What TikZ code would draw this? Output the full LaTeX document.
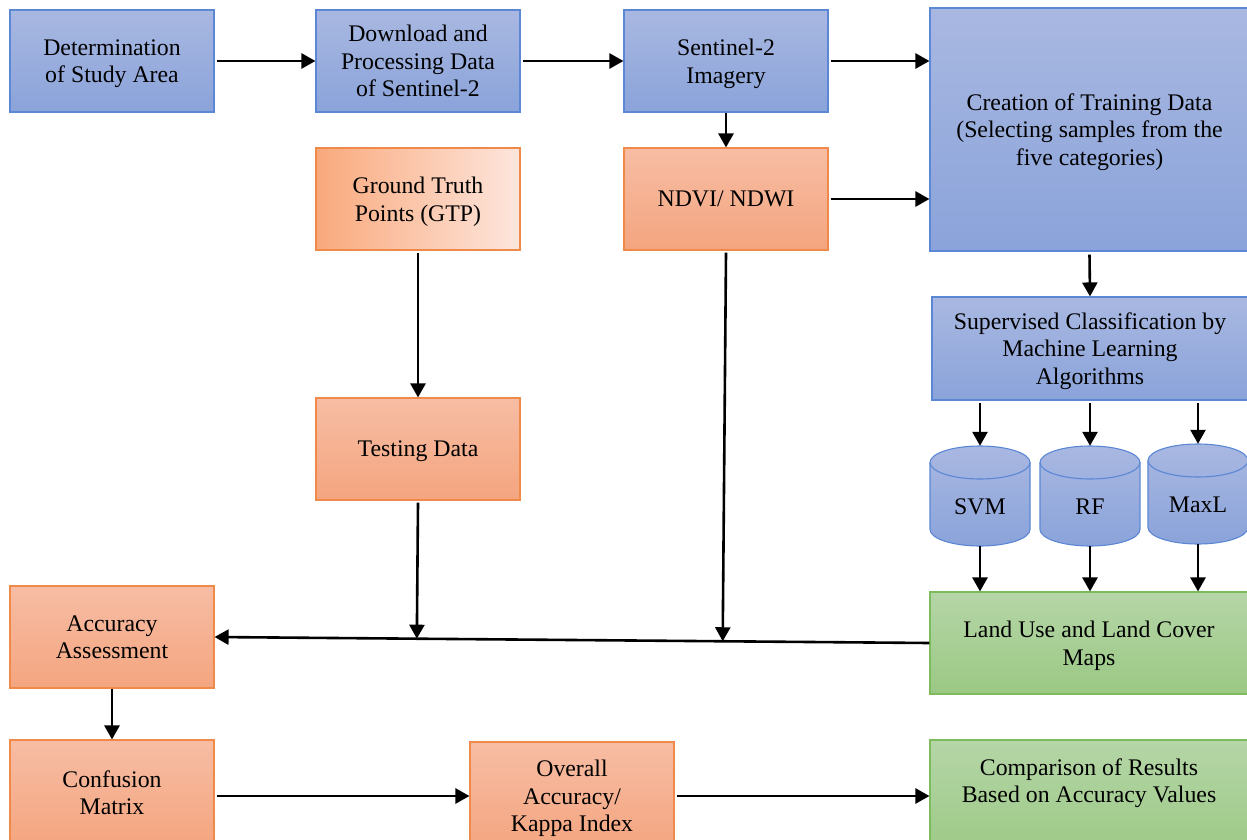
\documentclass[tikz,border=0pt]{standalone}
\usepackage{fontspec}
\setmainfont{Liberation Serif}
\usetikzlibrary{arrows.meta,calc}
\definecolor{bluetop}{HTML}{A9B8E1}
\definecolor{bluebot}{HTML}{8AA3DA}
\definecolor{blueline}{HTML}{5B87D5}
\definecolor{orgtop}{HTML}{F7BDA4}
\definecolor{orgbot}{HTML}{F4A57F}
\definecolor{orgline}{HTML}{F08A4B}
\definecolor{orgleft}{HTML}{F9A97C}
\definecolor{orgright}{HTML}{FDE6DD}
\definecolor{grntop}{HTML}{B5D6A7}
\definecolor{grnbot}{HTML}{9BC884}
\definecolor{grnline}{HTML}{7DBB5C}
\begin{document}
\begin{tikzpicture}[x=1pt,y=-1pt,
 font=\fontsize{23.8}{27.5}\selectfont,
 box/.style={rectangle, inner sep=0pt, align=center, line width=1.1pt, minimum width=204pt, minimum height=102pt, text depth=-4pt},
 bluebox/.style={box, draw=blueline, top color=bluetop, bottom color=bluebot},
 orgbox/.style={box, draw=orgline, top color=orgtop, bottom color=orgbot},
 grnbox/.style={box, draw=grnline, top color=grntop, bottom color=grnbot},
 cyl/.style={draw=blueline, line width=1.1pt, top color=bluetop, bottom color=bluebot},
 arr/.style={line width=2.6pt, -{Triangle[length=14pt,width=15pt]}},
 ln/.style={line width=2.6pt}
]
\useasboundingbox (0,0) rectangle (1247,840);
\clip (0,0) rectangle (1247,840);
\fill[white] (0,0) rectangle (1247,840);

% top row
\node[bluebox] (det) at (112,61) {Determination\\of Study Area};
\node[bluebox] (down) at (418,61) {Download and\\Processing Data\\of Sentinel-2};
\node[bluebox] (sen) at (726,61) {Sentinel-2\\Imagery};
\node[bluebox, minimum width=319pt, minimum height=243pt] (cre) at (1089.5,129.5) {Creation of Training Data\\(Selecting samples from the\\five categories)};

% second row
\node[box, draw=orgline, left color=orgleft, right color=orgright] (gtp) at (418,199) {Ground Truth\\Points (GTP)};
\node[orgbox] (ndvi) at (726,199) {NDVI/ NDWI};
\node[bluebox, minimum width=316pt, minimum height=103pt] (sup) at (1090,348.5) {Supervised Classification by\\Machine Learning\\Algorithms};
\node[orgbox] (test) at (418,449) {Testing Data};

% cylinders
\foreach \nm/\cx/\ty/\lab in {svm/980/446/SVM, rf/1090/446/RF, maxl/1198/444/MaxL}{
  \path[cyl] (\cx-50,\ty+16.5) -- (\cx-50,\ty+100-16.5)
     arc[start angle=180, end angle=360, x radius=50pt, y radius=16.5pt]
     -- (\cx+50,\ty+16.5)
     arc[start angle=0, end angle=180, x radius=50pt, y radius=16.5pt] -- cycle;
  \draw[blueline, line width=1.1pt] (\cx-50,\ty+16.5)
     arc[start angle=180, end angle=360, x radius=50pt, y radius=16.5pt];
  \node[rectangle, inner sep=0pt, minimum width=100pt, minimum height=100pt] (\nm) at (\cx,\ty+50) {};
  \node at (\cx,\ty+61) {\lab};
}

\node[grnbox, minimum width=318pt] (land) at (1089,643) {Land Use and Land Cover\\Maps};
\node[orgbox] (acc) at (112,637) {Accuracy\\Assessment};
\node[orgbox, minimum height=105pt] (conf) at (112,792.5) {Confusion\\Matrix};
\node[orgbox, minimum height=108pt] (over) at (572,796) {Overall\\Accuracy/\\Kappa Index};
\node[grnbox, minimum width=318pt, minimum height=120pt] (comp) at (1089,800) {};
\node[align=center] (comptxt) at (1089,783) {Comparison of Results\\Based on Accuracy Values};

% arrows
\draw[arr] ([xshift=2pt]det.east) -- (down.west);
\draw[arr] ([xshift=2pt]down.east) -- (sen.west);
\draw[arr] ([xshift=2pt]sen.east) -- (sen.east -| cre.west);
\draw[arr] (sen.south) -- (ndvi.north);
\draw[arr] ([xshift=2pt]ndvi.east) -- (ndvi.east -| cre.west);
\draw[arr] ([yshift=-3pt]cre.south) -- (sup.north);
\draw[arr] ([yshift=-2pt]gtp.south) -- (test.north);
\foreach \nm in {svm,rf,maxl}{
  \draw[arr] ([yshift=-2pt]sup.south -| \nm.north) -- (\nm.north);
  \draw[arr] (\nm.south) -- (\nm.south |- land.north);
}
\draw[arr] (land.west) -- (acc.east);
\draw[arr] ([yshift=-2pt]test.south) -- ($(acc.east)!(test.south)!(land.west)$);
\draw[arr] ([yshift=-2pt]ndvi.south) -- ($(acc.east)!(ndvi.south)!(land.west)$);
\draw[arr] (acc.south) -- (conf.north);
\draw[arr] ([xshift=2pt]conf.east |- over.west) -- (over.west);
\draw[arr] ([xshift=2pt]over.east) -- (over.east -| comp.west);
\end{tikzpicture}
\end{document}
